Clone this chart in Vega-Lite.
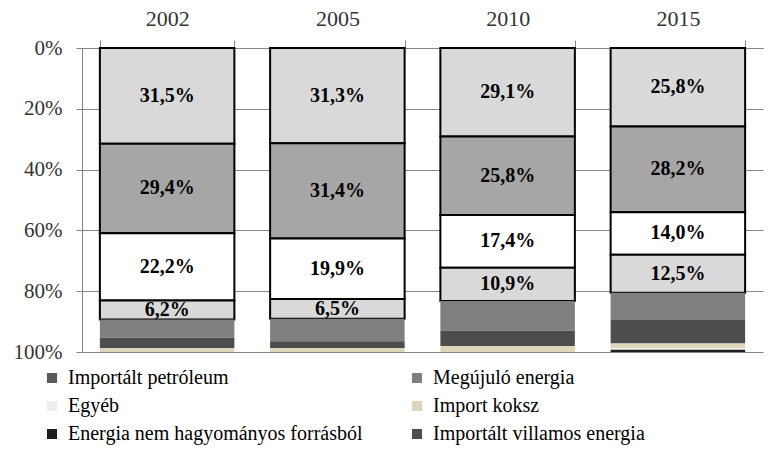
{
  "$schema": "https://vega.github.io/schema/vega-lite/v6.json",
  "autosize": {"type": "none"},
  "padding": {"left": 82, "top": 48, "right": 16, "bottom": 98},
  "width": 681,
  "height": 304,
  "background": "white",
  "config": {
    "view": {"stroke": null},
    "font": "Liberation Serif"
  },
  "data": {
    "values": [
      {"year": "2002", "series": "Kategória 1", "o": 1, "value": 31.5},
      {"year": "2002", "series": "Kategória 2", "o": 2, "value": 29.4},
      {"year": "2002", "series": "Kategória 3", "o": 3, "value": 22.2},
      {"year": "2002", "series": "Kategória 4", "o": 4, "value": 6.2},
      {"year": "2002", "series": "Megújuló energia", "o": 5, "value": 6.0},
      {"year": "2002", "series": "Importált villamos energia", "o": 6, "value": 3.5},
      {"year": "2002", "series": "Import koksz", "o": 7, "value": 1.2},
      {"year": "2005", "series": "Kategória 1", "o": 1, "value": 31.3},
      {"year": "2005", "series": "Kategória 2", "o": 2, "value": 31.4},
      {"year": "2005", "series": "Kategória 3", "o": 3, "value": 19.9},
      {"year": "2005", "series": "Kategória 4", "o": 4, "value": 6.5},
      {"year": "2005", "series": "Megújuló energia", "o": 5, "value": 7.4},
      {"year": "2005", "series": "Importált villamos energia", "o": 6, "value": 2.2},
      {"year": "2005", "series": "Import koksz", "o": 7, "value": 1.3},
      {"year": "2010", "series": "Kategória 1", "o": 1, "value": 29.1},
      {"year": "2010", "series": "Kategória 2", "o": 2, "value": 25.8},
      {"year": "2010", "series": "Kategória 3", "o": 3, "value": 17.4},
      {"year": "2010", "series": "Kategória 4", "o": 4, "value": 10.9},
      {"year": "2010", "series": "Megújuló energia", "o": 5, "value": 9.8},
      {"year": "2010", "series": "Importált villamos energia", "o": 6, "value": 5.0},
      {"year": "2010", "series": "Import koksz", "o": 7, "value": 2.0},
      {"year": "2015", "series": "Kategória 1", "o": 1, "value": 25.8},
      {"year": "2015", "series": "Kategória 2", "o": 2, "value": 28.2},
      {"year": "2015", "series": "Kategória 3", "o": 3, "value": 14.0},
      {"year": "2015", "series": "Kategória 4", "o": 4, "value": 12.5},
      {"year": "2015", "series": "Megújuló energia", "o": 5, "value": 9.0},
      {"year": "2015", "series": "Importált villamos energia", "o": 6, "value": 7.7},
      {"year": "2015", "series": "Import koksz", "o": 7, "value": 1.6},
      {"year": "2015", "series": "Egyéb", "o": 8, "value": 0.5},
      {"year": "2015", "series": "Energia nem hagyományos forrásból", "o": 9, "value": 0.7}
    ]
  },
  "transform": [
    {"stack": "value", "groupby": ["year"], "sort": [{"field": "o", "order": "ascending"}], "as": ["v0", "v1"]},
    {"calculate": "(datum.v0 + datum.v1) / 2", "as": "mid"},
    {"calculate": "replace(format(datum.value, '.1f'), '.', ',') + '%'", "as": "label"}
  ],
  "layer": [
    {
      "mark": {"type": "bar", "stroke": "black"},
      "encoding": {
        "x": {
          "field": "year", "type": "nominal", "title": null,
          "scale": {"paddingInner": 0.21, "paddingOuter": 0.105},
          "axis": {
            "orient": "top", "labelAngle": 0, "tickBand": "extent",
            "domainColor": "#868686", "tickColor": "#868686", "tickSize": 8,
            "labelFont": "Liberation Serif", "labelFontSize": 22, "labelColor": "#333333",
            "labelPadding": 10
          }
        },
        "y": {
          "field": "v0", "type": "quantitative", "title": null,
          "scale": {"domain": [0, 100], "reverse": true, "nice": false},
          "axis": {
            "values": [0, 20, 40, 60, 80, 100],
            "labelExpr": "datum.value + '%'",
            "grid": true, "gridColor": "#868686", "gridWidth": 1,
            "domainColor": "#868686", "tickColor": "#868686", "tickSize": 6,
            "labelFont": "Liberation Serif", "labelFontSize": 21, "labelColor": "#333333",
            "labelPadding": 14
          }
        },
        "y2": {"field": "v1"},
        "color": {
          "field": "series", "type": "nominal",
          "scale": {
            "domain": ["Kategória 1", "Kategória 2", "Kategória 3", "Kategória 4", "Importált petróleum", "Megújuló energia", "Egyéb", "Import koksz", "Energia nem hagyományos forrásból", "Importált villamos energia"],
            "range": ["#d9d9d9", "#a6a6a6", "#ffffff", "#d9d9d9", "#5a5a5a", "#7f7f7f", "#eeeeee", "#ddd6bb", "#1e1e1e", "#4d4d4d"]
          },
          "legend": {
            "values": ["Importált petróleum", "Megújuló energia", "Egyéb", "Import koksz", "Energia nem hagyományos forrásból", "Importált villamos energia"],
            "orient": "none", "legendX": -40, "legendY": 320,
            "direction": "horizontal", "columns": 2, "title": null,
            "padding": 0, "rowPadding": 8, "columnPadding": 44,
            "symbolType": "square", "symbolSize": 100, "symbolStrokeWidth": 0,
            "labelFont": "Liberation Serif", "labelFontSize": 20, "labelColor": "black",
            "labelLimit": 500, "labelOffset": 6
          }
        },
        "strokeWidth": {"condition": {"test": "datum.o <= 4", "value": 2}, "value": 0}
      }
    },
    {
      "transform": [{"filter": "datum.o <= 4"}],
      "mark": {"type": "text", "font": "Liberation Serif", "fontSize": 20, "fontWeight": "bold", "color": "black", "baseline": "middle"},
      "encoding": {
        "x": {"field": "year", "type": "nominal"},
        "y": {"field": "mid", "type": "quantitative"},
        "text": {"field": "label"}
      }
    }
  ]
}
